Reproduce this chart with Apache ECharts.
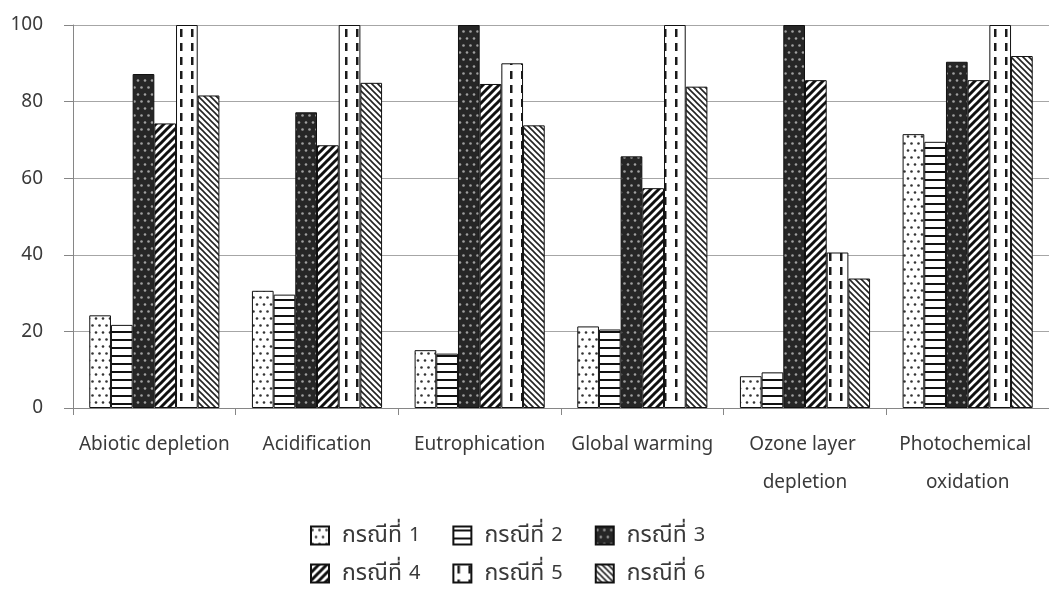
<!DOCTYPE html>
<html>
<head>
<meta charset="utf-8">
<script src="https://cdn.jsdelivr.net/npm/echarts@6/dist/echarts.min.js"></script>
<style>
  html, body { margin: 0; padding: 0; background: #fff; }
  #chart { width: 1049px; height: 594px; }
</style>
</head>
<body>
<div id="chart"></div>
<script>
// Impact categories on the x axis
const categories = ['Abiotic depletion', 'Acidification', 'Eutrophication', 'Global warming', 'Ozone layer depletion', 'Photochemical oxidation'];

// Relative impact (%) of each case per category
const case1 = [24.2, 30.6, 15.1, 21.3, 8.3, 71.5];
const case2 = [21.7, 29.6, 14.2, 20.5, 9.3, 69.5];
const case3 = [87.2, 77.2, 100, 65.7, 100, 90.4];
const case4 = [74.3, 68.6, 84.6, 57.4, 85.6, 85.6];
const case5 = [100, 100, 90.0, 100, 40.6, 100];
const case6 = [81.6, 84.9, 73.8, 83.9, 33.8, 91.9];

const seriesNames = ['กรณีที่ 1', 'กรณีที่ 2', 'กรณีที่ 3', 'กรณีที่ 4', 'กรณีที่ 5', 'กรณีที่ 6'];
const seriesValues = [case1, case2, case3, case4, case5, case6];

const yTicks = { min: 0, max: 100, interval: 20 };

const FONT = "'Noto Sans', 'Noto Sans Thai', 'DejaVu Sans', sans-serif";
const TEXT = '#3a3a3a';
const AXIS = '#868686';

// Fill patterns for the bars
function tile(w, h, bg, draw) {
  const c = document.createElement('canvas');
  c.width = w; c.height = h;
  const ctx = c.getContext('2d');
  ctx.fillStyle = bg;
  ctx.fillRect(0, 0, w, h);
  draw(ctx, w, h);
  return c;
}
function dot(ctx, x, y, r, col) {
  ctx.fillStyle = col;
  ctx.beginPath();
  ctx.arc(x, y, r, 0, Math.PI * 2);
  ctx.fill();
}
const patterns = [
  // sparse dots on white
  tile(7, 14, '#ffffff', (ctx) => {
    dot(ctx, 1.5, 3.5, 1.3, '#333');
    dot(ctx, 5, 10.5, 1.3, '#333');
  }),
  // horizontal lines
  tile(8, 8, '#ffffff', (ctx) => {
    ctx.fillStyle = '#111';
    ctx.fillRect(0, 3, 8, 2);
  }),
  // light dots on dark
  tile(7, 14, '#262626', (ctx) => {
    dot(ctx, 1.5, 3.5, 1.3, '#a0a0a0');
    dot(ctx, 5, 10.5, 1.3, '#a0a0a0');
  }),
  // wide forward diagonal
  tile(8, 8, '#ffffff', (ctx) => {
    ctx.strokeStyle = '#111';
    ctx.lineWidth = 3;
    ctx.beginPath();
    ctx.moveTo(-2, 2); ctx.lineTo(2, -2);
    ctx.moveTo(0, 8); ctx.lineTo(8, 0);
    ctx.moveTo(6, 10); ctx.lineTo(10, 6);
    ctx.stroke();
  }),
  // dashed vertical lines
  tile(11, 14, '#ffffff', (ctx) => {
    ctx.fillStyle = '#1a1a1a';
    ctx.fillRect(4, 1, 2.5, 8);
  }),
  // narrow backward diagonal
  tile(6, 6, '#ffffff', (ctx) => {
    ctx.strokeStyle = '#222';
    ctx.lineWidth = 1.6;
    ctx.beginPath();
    ctx.moveTo(-2, 4); ctx.lineTo(2, 8);
    ctx.moveTo(0, 0); ctx.lineTo(6, 6);
    ctx.moveTo(4, -2); ctx.lineTo(8, 2);
    ctx.stroke();
  })
];

const chart = echarts.init(document.getElementById('chart'), null, { renderer: 'canvas' });

const series = seriesNames.map((name, i) => ({
  name: name,
  type: 'bar',
  data: seriesValues[i],
  barGap: '0%',
  barCategoryGap: '20%',
  itemStyle: {
    color: { image: patterns[i], repeat: 'repeat' },
    borderColor: '#111',
    borderWidth: 1
  }
}));

// Thai word set a little larger than the digit so both read evenly
const legendBase = {
  left: 310,
  padding: 0,
  itemWidth: 18,
  itemHeight: 18,
  itemGap: 32,
  icon: 'rect',
  formatter: (name) => name.replace(/^(\S+)\s(\d+)$/, '{th|$1}{n|$2}'),
  textStyle: {
    fontFamily: FONT,
    color: TEXT,
    rich: {
      th: { fontFamily: FONT, fontSize: 23, color: TEXT, lineHeight: 26, padding: [0, 0, 0, 8] },
      n: { fontFamily: FONT, fontSize: 20, color: TEXT, lineHeight: 26, padding: [0, 0, 0, 7] }
    }
  }
};

chart.setOption({
  animation: false,
  backgroundColor: '#ffffff',
  textStyle: { fontFamily: FONT },
  grid: { left: 73, right: 0, top: 25, bottom: 186, containLabel: false, outerBoundsMode: 'none' },
  legend: [
    Object.assign({}, legendBase, { top: 524, data: seriesNames.slice(0, 3) }),
    Object.assign({}, legendBase, { top: 562, data: seriesNames.slice(3) })
  ],
  xAxis: {
    type: 'category',
    data: categories,
    axisLine: { lineStyle: { color: AXIS, width: 1 } },
    axisTick: { show: true, length: 7, lineStyle: { color: AXIS } },
    axisLabel: {
      fontFamily: FONT,
      fontSize: 19,
      color: TEXT,
      margin: 18,
      lineHeight: 38,
      width: 162,
      overflow: 'break',
      interval: 0
    }
  },
  yAxis: {
    type: 'value',
    min: yTicks.min,
    max: yTicks.max,
    interval: yTicks.interval,
    name: '%',
    nameLocation: 'middle',
    nameGap: 54,
    nameTextStyle: { fontFamily: FONT, fontSize: 19, color: TEXT },
    axisLine: { show: true, lineStyle: { color: AXIS, width: 1 } },
    axisTick: { show: true, length: 9, lineStyle: { color: AXIS } },
    axisLabel: { fontFamily: FONT, fontSize: 19, color: TEXT, margin: 30 },
    splitLine: { lineStyle: { color: '#a6a6a6', width: 1 } }
  },
  series: series
});
</script>
</body>
</html>
